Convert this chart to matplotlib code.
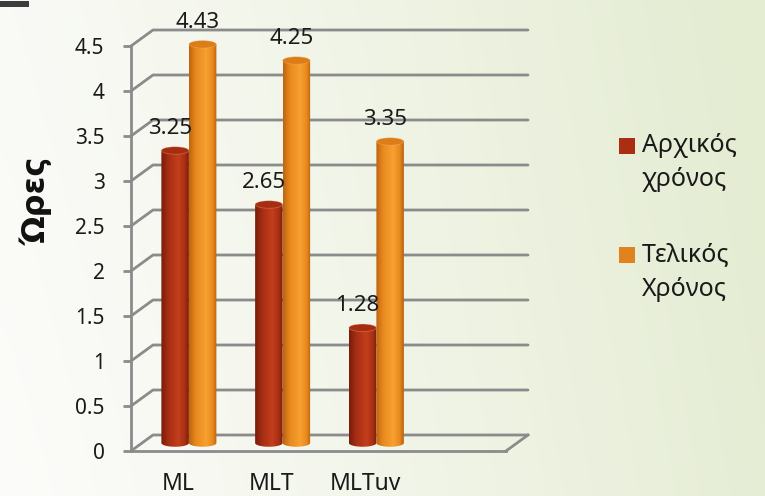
import numpy as np
import matplotlib
matplotlib.use("Agg")
import matplotlib.pyplot as plt
from matplotlib.patches import Ellipse, Rectangle, PathPatch
from matplotlib.path import Path

plt.rcParams['font.family'] = ['Noto Sans', 'DejaVu Sans']

# ---------------- data ----------------
categories = ['ML', 'MLT', 'MLTuv']
initial_time = [3.25, 2.65, 1.28]     # Αρχικός χρόνος
final_time = [4.43, 4.25, 3.35]       # Τελικός Χρόνος
series_names = ['Αρχικός\nχρόνος', 'Τελικός\nΧρόνος']
y_ticks = [0, 0.5, 1, 1.5, 2, 2.5, 3, 3.5, 4, 4.5]
y_tick_labels = ['0', '0.5', '1', '1.5', '2', '2.5', '3', '3.5', '4', '4.5']
y_label = 'Ώρες'
n_slots = 4   # the category axis has room for four groups

# ---------------- style ----------------
W, H = 765, 496
fig = plt.figure(figsize=(W / 100, H / 100), dpi=100)
ax = fig.add_axes([0, 0, 1, 1])

# front plane in pixels
px_left, px_right = 131, 506
px_y0, px_y45 = 45, 450          # from bottom
ux = (px_right - px_left) / n_slots
uy = (px_y45 - px_y0) / 4.5
x0 = -0.5
ax.set_xlim(x0 - px_left / ux, x0 + (W - px_left) / ux)
ax.set_ylim(-px_y0 / uy, (H - px_y0) / uy)
ax.set_facecolor('none')

dx = 22 / ux
dy = 16 / uy
grid_c = '#8b8b8b'
grid_lw = 2.0

# background gradient
gx = np.linspace(0, 1, 200)
gy = np.linspace(0, 1, 130)
GX, GY = np.meshgrid(gx, gy)
t = np.clip(0.92 * GX ** 1.15 + 0.12 * GY, 0, 1)
c0 = np.array([252, 252, 250]) / 255
c1 = np.array([228, 236, 210]) / 255
bg = c0[None, None, :] * (1 - t[..., None]) + c1[None, None, :] * t[..., None]
xl, yl = ax.get_xlim(), ax.get_ylim()
ax.imshow(bg, extent=[xl[0], xl[1], yl[0], yl[1]], origin='lower',
          aspect='auto', zorder=0, interpolation='bilinear')
ax.set_xlim(xl)
ax.set_ylim(yl)

# walls / gridlines
x_right = x0 + n_slots
for v in y_ticks:
    ax.plot([x0, x0 + dx, x_right + dx], [v, v + dy, v + dy],
            color=grid_c, lw=grid_lw, zorder=1, solid_capstyle='round')
ax.plot([x_right, x_right + dx], [0, dy], color=grid_c, lw=grid_lw, zorder=1)

# spines used as front axis lines
for s in ['top', 'right']:
    ax.spines[s].set_visible(False)
ax.spines['left'].set_position(('data', x0))
ax.spines['left'].set_bounds(0, 4.5)
ax.spines['bottom'].set_position(('data', 0))
ax.spines['bottom'].set_bounds(x0, x_right)
for s in ['left', 'bottom']:
    ax.spines[s].set_color(grid_c)
    ax.spines[s].set_linewidth(grid_lw)
    ax.spines[s].set_zorder(1)

ax.set_yticks(y_ticks)
ax.set_yticklabels(y_tick_labels)
ax.tick_params(axis='y', direction='out', length=6, width=grid_lw, color=grid_c,
               pad=13, labelsize=15, labelcolor='#1a1a1a')
ax.set_xticks(range(len(categories)))
ax.set_xticklabels(categories)
ax.tick_params(axis='x', length=0, pad=15, labelsize=16.5, labelcolor='#1a1a1a')

# bars (cylinders at mid depth)
bw = 27.5 / ux
idx = np.arange(len(categories))
base = dy / 2
red_bars = ax.bar(idx - bw / 2 + dx / 2, initial_time, width=bw, bottom=base,
                  color='#b5341a', zorder=3)
org_bars = ax.bar(idx + bw / 2 + dx / 2, final_time, width=bw, bottom=base,
                  color='#ee8f1f', zorder=3)

eh = 7.5 / uy


def shade(stops):
    pos = np.array([s[0] for s in stops])
    cols = np.array([s[1] for s in stops]) / 255
    xs = np.linspace(0, 1, 64)
    arr = np.stack([np.interp(xs, pos, cols[:, k]) for k in range(3)], axis=-1)
    return arr[None, :, :]


red_grad = shade([(0, (120, 28, 10)), (0.25, (165, 45, 20)), (0.62, (196, 62, 28)),
                  (0.85, (170, 48, 20)), (1, (125, 30, 10))])
org_grad = shade([(0, (190, 100, 15)), (0.25, (232, 138, 30)), (0.62, (248, 160, 48)),
                  (0.85, (232, 138, 30)), (1, (185, 98, 14))])
red_cap = '#a62c14'
org_cap = '#dc7e18'

for bars, grad, capc, z in [(red_bars, red_grad, red_cap, 3), (org_bars, org_grad, org_cap, 4)]:
    for b in bars:
        bx, by, bwid, bh = b.get_x(), b.get_y(), b.get_width(), b.get_height()
        b.set_visible(False)
        # path: rectangle with rounded (elliptical) bottom
        th = np.linspace(np.pi, 2 * np.pi, 30)
        cx = bx + bwid / 2
        bottom_pts = [(cx + bwid / 2 * np.cos(a), by + eh / 2 * np.sin(a)) for a in th]
        verts = [(bx, by + bh)] + bottom_pts + [(bx + bwid, by + bh), (bx, by + bh)]
        codes = [Path.MOVETO] + [Path.LINETO] * (len(verts) - 2) + [Path.CLOSEPOLY]
        pp = PathPatch(Path(verts, codes), transform=ax.transData, facecolor='none',
                       edgecolor='none')
        ax.add_patch(pp)
        im = ax.imshow(grad, extent=[bx, bx + bwid, by - eh, by + bh], aspect='auto',
                       zorder=z, interpolation='bilinear')
        im.set_clip_path(pp)
        im.set_clip_box(None)
        ax.add_patch(Ellipse((cx, by + bh), bwid, eh, facecolor=capc,
                             edgecolor=(1, 0.75, 0.5, 0.35), lw=0.6, zorder=z + 0.5))

ax.set_xlim(xl)
ax.set_ylim(yl)

# value labels
for bars, vals in [(red_bars, initial_time), (org_bars, final_time)]:
    for b, v in zip(bars, vals):
        ax.annotate(f'{v:.2f}', xy=(b.get_x() + b.get_width() / 2, b.get_y() + v),
                    xytext=(-5, 22), textcoords='offset pixels', ha='center',
                    va='center', fontsize=16, color='#1a1a1a', zorder=6)

# y axis title
fig.text(37 / W, 1 - 201 / H, y_label, rotation=90, fontsize=23, fontweight='bold',
         ha='center', va='center', color='#111111',
         family=['DejaVu Sans'])

# legend (manual, square aligned with first text line)
leg_cols = ['#a92e12', '#e2821c']
leg_tops = [138, 247]
for name, col, top in zip(series_names, leg_cols, leg_tops):
    fig.patches.append(Rectangle((619 / W, 1 - (top + 15.5) / H), 15.5 / W, 15.5 / H,
                                 transform=fig.transFigure, facecolor=col,
                                 edgecolor='none'))
    fig.text(642 / W, 1 - (top - 5) / H, name, fontsize=18, va='top', ha='left',
             color='#1a1a1a', linespacing=1.5)

# cut-off dark fragment at top-left corner
fig.patches.append(Rectangle((0, 1 - 7 / H), 29 / W, 6 / H, transform=fig.transFigure,
                             facecolor='#3c3c3c', edgecolor='none'))

fig.savefig('out.png', dpi=100)
